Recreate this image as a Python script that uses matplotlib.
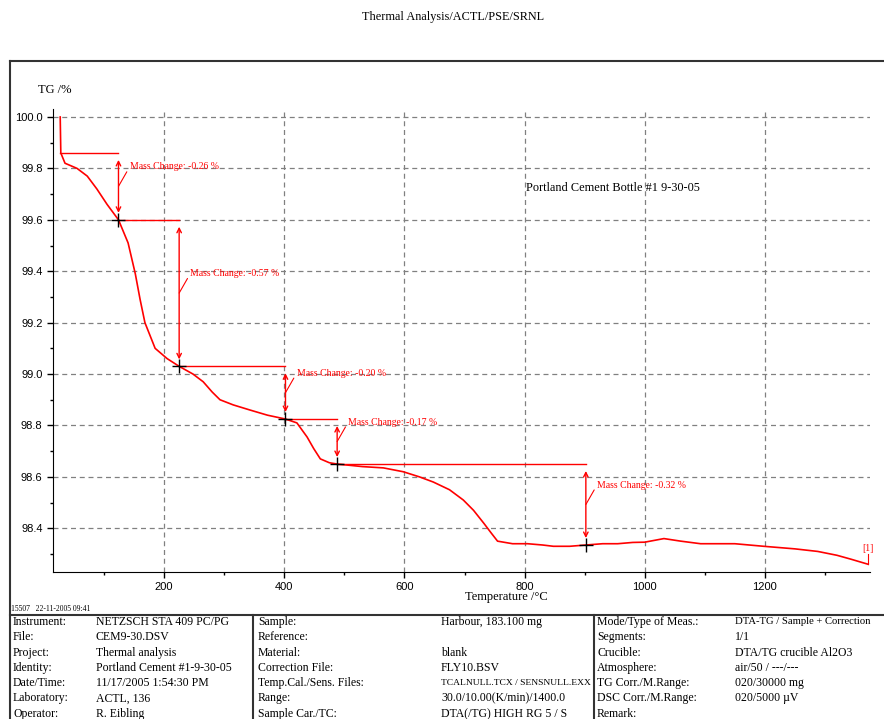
import matplotlib

matplotlib.use("Agg")
import matplotlib.pyplot as plt
from matplotlib.lines import Line2D
from matplotlib.ticker import MultipleLocator, FormatStrFormatter

# TG curve
temp_c = [27, 28, 35, 55, 72, 88, 105, 124, 140, 152, 160, 168, 185, 205, 225,
          248, 265, 280, 293, 315, 343, 372, 402, 421, 438, 449, 460, 475, 488,
          530, 565, 598, 625, 648, 675, 698, 715, 732, 745, 755, 780, 805, 830,
          848, 875, 902, 930, 955, 980, 1000, 1032, 1060, 1093, 1150, 1198,
          1250, 1288, 1320, 1343, 1372]
tg_pct = [100.0, 99.86, 99.82, 99.80, 99.77, 99.72, 99.66, 99.60, 99.51, 99.39,
          99.29, 99.20, 99.10, 99.06, 99.03, 99.00, 98.97, 98.93, 98.90, 98.88,
          98.86, 98.84, 98.825, 98.81, 98.755, 98.71, 98.67, 98.655, 98.65,
          98.64, 98.635, 98.62, 98.60, 98.58, 98.55, 98.51, 98.47, 98.42, 98.38,
          98.35, 98.34, 98.34, 98.335, 98.33, 98.33, 98.335, 98.34, 98.34,
          98.345, 98.346, 98.36, 98.35, 98.34, 98.34, 98.33, 98.32, 98.31,
          98.295, 98.28, 98.26]

# mass change steps: start level, then each evaluated point
step_start = (27, 99.86)
step_temp = [124, 225, 402, 488, 902]
step_tg = [99.60, 99.03, 98.825, 98.65, 98.335]
step_label = ["-0.26", "-0.57", "-0.20", "-0.17", "-0.32"]

header_rows = [
    ("Instrument:", "NETZSCH STA 409 PC/PG", "Sample:", "Harbour, 183.100 mg",
     "Mode/Type of Meas.:", "DTA-TG / Sample + Correction"),
    ("File:", "CEM9-30.DSV", "Reference:", "", "Segments:", "1/1"),
    ("Project:", "Thermal analysis", "Material:", "blank",
     "Crucible:", "DTA/TG crucible Al2O3"),
    ("Identity:", "Portland Cement #1-9-30-05", "Correction File:", "FLY10.BSV",
     "Atmosphere:", "air/50 / ---/---"),
    ("Date/Time:", "11/17/2005 1:54:30 PM", "Temp.Cal./Sens. Files:",
     "TCALNULL.TCX / SENSNULL.EXX", "TG Corr./M.Range:", "020/30000 mg"),
    ("Laboratory:", "ACTL, 136", "Range:", "30.0/10.00(K/min)/1400.0",
     "DSC Corr./M.Range:", "020/5000 \u00b5V"),
    ("Operator:", "R. Eibling", "Sample Car./TC:", "DTA(/TG) HIGH RG 5 / S",
     "Remark:", ""),
]

W, H = 884, 719
SERIF = "Liberation Serif"
SANS = "Liberation Sans"
RED = "#ff0000"


def fx(px):
    return px / W


def fy(py):
    return 1 - py / H


fig = plt.figure(figsize=(W / 100, H / 100), dpi=100)
ax = fig.add_axes([fx(53), fy(572), fx(870 - 53), (572 - 109) / H])

ax.plot(temp_c, tg_pct, color=RED, lw=1.2, zorder=3)

# step annotations
prev_t, prev_tg = step_start
for t, tg, lab in zip(step_temp, step_tg, step_label):
    ax.plot([prev_t, t], [prev_tg, prev_tg], color=RED, lw=1.0, zorder=3)
    ax.annotate("", xy=(t, tg), xytext=(t, prev_tg),
                arrowprops=dict(arrowstyle="<->", color=RED, lw=1.0,
                                shrinkA=5, shrinkB=5, mutation_scale=8),
                zorder=4)
    mid = (tg + prev_tg) / 2
    ax.annotate(f"Mass Change: {lab} %", xy=(t, mid), xytext=(8, 14),
                textcoords="offset points", ha="left", va="center",
                fontsize=7, color=RED, family=SERIF,
                arrowprops=dict(arrowstyle="-", color=RED, lw=0.8,
                                relpos=(0, 0.5), shrinkA=0, shrinkB=0))
    ax.plot(t, tg, marker="+", color="black", ms=10, mew=1.0, zorder=5)
    prev_t, prev_tg = t, tg

ax.plot([temp_c[-1], temp_c[-1]], [tg_pct[-1], 98.30], color=RED, lw=0.8)
ax.text(temp_c[-1], 98.302, "[1]", color=RED, fontsize=7, family=SERIF,
        ha="center", va="bottom")
ax.text(802, 99.724, "Portland Cement Bottle #1 9-30-05", fontsize=8.8,
        family=SERIF, ha="left", va="center")

ax.set_xlim(15, 1375)
ax.set_ylim(98.23, 100.031)
ax.xaxis.set_major_locator(MultipleLocator(200))
ax.xaxis.set_minor_locator(MultipleLocator(100))
ax.yaxis.set_major_locator(MultipleLocator(0.2))
ax.yaxis.set_minor_locator(MultipleLocator(0.1))
ax.yaxis.set_major_formatter(FormatStrFormatter("%.1f"))
ax.tick_params(which="major", direction="out", length=4, width=1, labelsize=8)
ax.tick_params(which="minor", direction="out", length=2.5, width=1)
for lbl in ax.get_xticklabels() + ax.get_yticklabels():
    lbl.set_family(SANS)
ax.grid(which="major", ls=(0, (4, 3)), color="#808080", lw=0.9)
ax.spines["top"].set_visible(False)
ax.spines["right"].set_visible(False)

fig.text(fx(453), fy(17), "Thermal Analysis/ACTL/PSE/SRNL", fontsize=8.8,
         family=SERIF, ha="center", va="center")
fig.text(fx(38), fy(90), "TG /%", fontsize=9, family=SERIF, ha="left",
         va="center")
fig.text(fx(506), fy(597), "Temperature /\u00b0C", fontsize=9, family=SERIF,
         ha="center", va="center")
fig.text(fx(11), fy(609), "15507   22-11-2005 09:41", fontsize=5.5,
         family=SERIF, ha="left", va="center")

# outer frame and header table
frame = dict(color="#333333", lw=1.5, transform=fig.transFigure)
fig.add_artist(Line2D([fx(10), 1.0], [fy(61), fy(61)], **frame))
fig.add_artist(Line2D([fx(10), fx(10)], [fy(61), 0.0], **frame))
fig.add_artist(Line2D([fx(10), 1.0], [fy(615), fy(615)], **frame))
fig.add_artist(Line2D([fx(253), fx(253)], [fy(615), 0.0], **frame))
fig.add_artist(Line2D([fx(594), fx(594)], [fy(615), 0.0], **frame))

col_x = [13, 96, 258, 441, 597, 735]
col_end = [96, 250, 441, 590, 735, 870]
renderer = fig.canvas.get_renderer()
for i, row in enumerate(header_rows):
    y = 622 + i * 15.3
    for x, x_end, txt in zip(col_x, col_end, row):
        t = fig.text(fx(x), fy(y), txt, fontsize=8.5, family=SERIF, ha="left",
                     va="center")
        # shrink cells that would run past their column
        width = t.get_window_extent(renderer).width
        if width > x_end - x:
            t.set_fontsize(8.5 * (x_end - x) / width)

fig.savefig("out.png", dpi=100)
